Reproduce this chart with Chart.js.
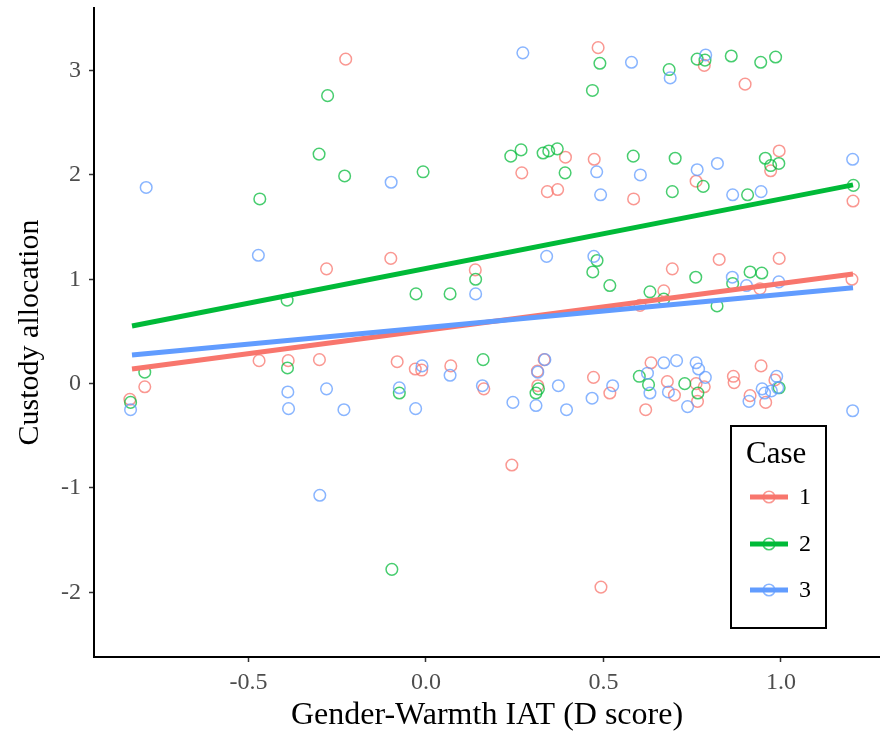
<!DOCTYPE html>
<html>
<head>
<meta charset="utf-8">
<script src="https://cdn.jsdelivr.net/npm/chart.js@4/dist/chart.umd.min.js"></script>
<style>
  html, body { margin: 0; padding: 0; background: #fff; overflow: hidden; }
  #wrap { width: 880px; height: 735px; position: relative; }
</style>
</head>
<body>
<div id="wrap"><canvas id="c"></canvas></div>
<script>
// ---- data ----
const caseLabels = ['1', '2', '3'];

const case1X = [-0.226, 0.27, 0.393, 0.342, 0.371, 0.474, 0.485, 0.784, 0.899, 0.585, 0.761, 0.995, 0.971, 1.203,
  -0.28, -0.47, -0.388, -0.30, -0.792, -0.834, -0.099, 0.139, -0.081, -0.03, -0.012, 0.07, 0.163, 0.333, 0.314, 0.315,
  0.472, 0.518, 0.694, 0.826, 0.995, 0.941, 1.2, 0.67, 0.603, 0.634, 0.68, 0.70, 0.761, 0.784, 0.765, 0.619,
  0.866, 0.868, 0.944, 0.983, 0.913, 0.957, 0.242, 0.493];
const case1Y = [3.11, 2.02, 2.17, 1.84, 1.86, 2.15, 3.22, 3.05, 2.87, 1.77, 1.94, 2.23, 2.04, 1.75,
  1.10, 0.22, 0.22, 0.23, -0.03, -0.15, 1.20, 1.09, 0.21, 0.14, 0.13, 0.17, -0.05, 0.23, 0.12, -0.02,
  0.06, -0.09, 1.10, 1.19, 1.20, 0.91, 1.00, 0.89, 0.75, 0.20, 0.02, -0.11, 0.00, -0.03, -0.17, -0.25,
  0.07, 0.01, 0.17, 0.035, -0.115, -0.18, -0.78, -1.95];

const case2X = [-0.277, -0.301, -0.229, -0.468, 0.49, 0.469, -0.008, 0.239, 0.268, 0.33, 0.346, 0.37, 0.392,
  0.685, 0.764, 0.786, 0.86, 0.943, 0.985, 0.584, 0.702, 0.781, 0.694, 0.906, 0.956, 0.971, 0.994, 1.204,
  -0.391, -0.39, -0.792, -0.832, 0.14, -0.028, 0.068, 0.482, 0.47, 0.518, 0.161, -0.075, 0.317, 0.31,
  0.76, 0.913, 0.946, 0.864, 0.631, 0.67, 0.82, 0.601, 0.627, 0.729, 0.766, 0.995, -0.096];
const case2Y = [2.76, 2.20, 1.99, 1.77, 3.07, 2.81, 2.03, 2.18, 2.24, 2.21, 2.23, 2.25, 2.02,
  3.01, 3.11, 3.10, 3.14, 3.08, 3.13, 2.18, 2.16, 1.89, 1.84, 1.81, 2.16, 2.09, 2.11, 1.90,
  0.80, 0.15, 0.11, -0.18, 1.00, 0.86, 0.86, 1.18, 1.07, 0.94, 0.23, -0.09, -0.05, -0.09,
  1.02, 1.07, 1.06, 0.96, 0.88, 0.81, 0.745, 0.07, -0.01, 0.00, -0.09, -0.04, -1.78];

const case3X = [-0.788, 0.273, -0.098, 0.481, 0.492, 0.579, 0.688, 0.788, 0.604, 0.764, 0.821, 0.864, 0.944, 1.202,
  -0.472, -0.832, -0.389, -0.387, -0.28, -0.231, 0.14, 0.34, 0.473, -0.011, 0.068, -0.075, -0.029, 0.159,
  0.335, 0.315, 0.373, 0.245, 0.31, 0.396, 0.468, 0.526, 0.863, 0.903, 0.994, 0.67, 0.706, 0.761, 0.768,
  0.787, 0.624, 0.631, 0.683, 0.737, 0.988, 0.947, 0.954, 0.973, 0.991, 0.91, 1.202, -0.299];
const case3Y = [1.88, 3.17, 1.93, 2.03, 1.81, 3.08, 2.93, 3.15, 2.00, 2.05, 2.11, 1.81, 1.84, 2.15,
  1.23, -0.25, -0.08, -0.24, -0.05, -0.25, 0.86, 1.22, 1.22, 0.17, 0.08, -0.04, -0.24, -0.02,
  0.23, 0.11, -0.02, -0.18, -0.21, -0.25, -0.14, -0.02, 1.02, 0.94, 0.975, 0.20, 0.22, 0.20, 0.14,
  0.06, 0.10, -0.09, -0.08, -0.22, 0.07, -0.05, -0.09, -0.07, -0.04, -0.17, -0.26, -1.07];

// fitted regression lines (endpoints)
const fitX = [-0.828, 1.203];
const fit1Y = [0.141, 1.05];
const fit2Y = [0.553, 1.905];
const fit3Y = [0.275, 0.918];

const xTicks = [-0.5, 0.0, 0.5, 1.0];
const yTicks = [-2, -1, 0, 1, 2, 3];

// ---- styles ----
const lineColors = ['#F8766D', '#00BA38', '#619CFF'];
const pointColors = ['rgba(248,118,109,0.75)', 'rgba(0,186,56,0.72)', 'rgba(97,156,255,0.75)'];
const serif = '"Liberation Serif", "Times New Roman", serif';

const toPts = (xs, ys) => xs.map((x, i) => ({ x: x, y: ys[i] }));
const ptsX = [case1X, case2X, case3X];
const ptsY = [case1Y, case2Y, case3Y];
const fitYs = [fit1Y, fit2Y, fit3Y];

const datasets = [];
for (let k = 0; k < 3; k++) {
  datasets.push({
    label: 'pts' + caseLabels[k],
    data: toPts(ptsX[k], ptsY[k]),
    showLine: false,
    pointRadius: 5.8,
    pointHoverRadius: 5.8,
    pointBorderWidth: 1.5,
    pointBackgroundColor: 'rgba(0,0,0,0)',
    pointBorderColor: pointColors[k],
    borderColor: pointColors[k],
    order: 10 - k
  });
}
for (let k = 0; k < 3; k++) {
  datasets.push({
    label: caseLabels[k],
    data: toPts(fitX, fitYs[k]),
    showLine: true,
    borderColor: lineColors[k],
    borderWidth: 5,
    pointRadius: 0,
    pointHoverRadius: 0,
    fill: false,
    order: 3 - k
  });
}

const legendPlugin = {
  id: 'caseLegend',
  afterDraw(chart) {
    const ctx = chart.ctx;
    ctx.save();
    const L = 731, T = 426, R = 826, B = 628;
    ctx.fillStyle = '#fff';
    ctx.fillRect(L, T, R - L, B - T);
    ctx.strokeStyle = '#000';
    ctx.lineWidth = 2;
    ctx.strokeRect(L, T, R - L, B - T);
    ctx.fillStyle = '#000';
    ctx.font = '31px ' + serif;
    ctx.textBaseline = 'alphabetic';
    ctx.textAlign = 'left';
    ctx.fillText('Case', 746, 463);
    const ys = [497, 544, 590];
    ctx.font = '24px ' + serif;
    ctx.textBaseline = 'middle';
    for (let k = 0; k < 3; k++) {
      ctx.strokeStyle = lineColors[k];
      ctx.lineWidth = 5;
      ctx.beginPath();
      ctx.moveTo(750, ys[k]);
      ctx.lineTo(788, ys[k]);
      ctx.stroke();
      ctx.strokeStyle = pointColors[k];
      ctx.lineWidth = 1.5;
      ctx.beginPath();
      ctx.arc(769, ys[k], 5.8, 0, Math.PI * 2);
      ctx.stroke();
      ctx.fillStyle = '#000';
      ctx.fillText(caseLabels[k], 799, ys[k] + 1);
    }
    ctx.restore();
  }
};

new Chart(document.getElementById('c'), {
  type: 'scatter',
  data: { datasets: datasets },
  plugins: [legendPlugin],
  options: {
    responsive: true,
    maintainAspectRatio: false,
    animation: false,
    layout: { autoPadding: false, padding: { top: 8, right: 0, left: 0, bottom: 0 } },
    plugins: { legend: { display: false }, tooltip: { enabled: false } },
    scales: {
      x: {
        type: 'linear',
        min: -0.935,
        max: 1.279,
        afterBuildTicks: s => { s.ticks = xTicks.map(v => ({ value: v })); },
        afterFit: s => { s.height = 78; s.paddingLeft = 0; s.paddingRight = 0; },
        ticks: {
          callback: v => Number(v).toFixed(1),
          font: { family: serif, size: 24 },
          color: '#4d4d4d',
          padding: 6,
          maxRotation: 0
        },
        grid: { display: true, drawOnChartArea: false, drawTicks: true, tickLength: 5, tickColor: '#333', tickWidth: 1.5 },
        border: { display: true, color: '#000', width: 2 },
        title: { display: true, text: 'Gender-Warmth IAT (D score)', font: { family: serif, size: 32 }, color: '#000', padding: { top: 0, bottom: 0 } }
      },
      y: {
        type: 'linear',
        min: -2.62,
        max: 3.6,
        afterBuildTicks: s => { s.ticks = yTicks.map(v => ({ value: v })); },
        afterFit: s => { s.width = 94; s.paddingTop = 0; s.paddingBottom = 0; },
        ticks: {
          callback: v => String(v),
          font: { family: serif, size: 24 },
          color: '#4d4d4d',
          padding: 8
        },
        grid: { display: true, drawOnChartArea: false, drawTicks: true, tickLength: 5, tickColor: '#333', tickWidth: 1.5 },
        border: { display: true, color: '#000', width: 2 },
        title: { display: true, text: 'Custody allocation', font: { family: serif, size: 30 }, color: '#000', padding: { top: 12, bottom: 0 } }
      }
    }
  }
});
</script>
</body>
</html>
